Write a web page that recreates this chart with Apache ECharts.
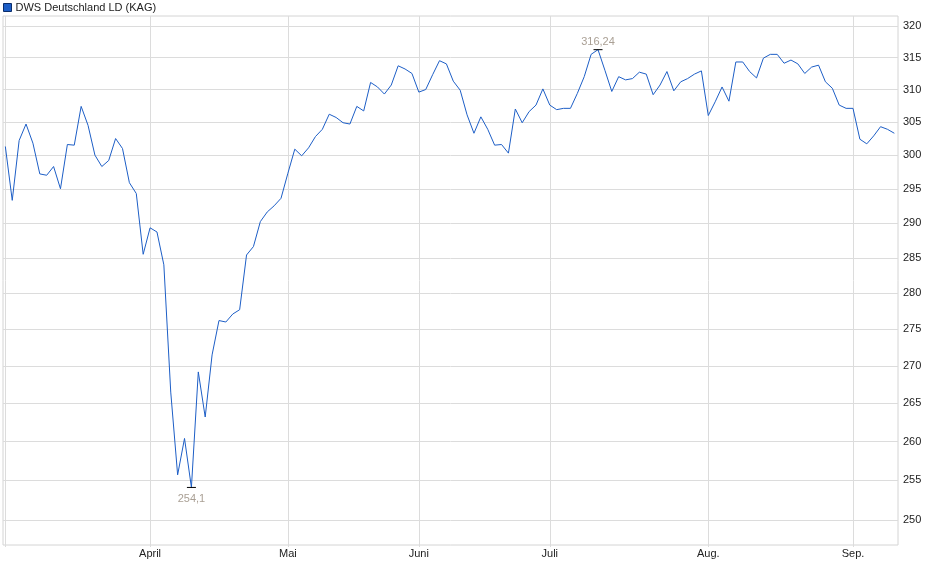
<!DOCTYPE html>
<html>

<head>
    <meta charset="utf-8" />
    <script type="text/javascript" src="https://cdn.jsdelivr.net/npm/echarts@6/dist/echarts.min.js"></script>
    <title>DWS Deutschland LD (KAG)</title>
    <style>
        html, body { margin: 0; padding: 0; background: #fff; }
        #main { width: 940px; height: 579px; }
    </style>
</head>

<body>
    <div id="main"></div>
    <script type="text/javascript">
    var seriesName = 'DWS Deutschland LD (KAG)';
    // Kurse je Handelstag, nach Monat getrennt
    var maerz = [301.3, 293.3, 302.2, 304.7, 301.8, 297.2, 297.0, 298.3, 295.0, 301.6, 301.5,
        307.4, 304.5, 300.0, 298.3, 299.2, 302.5, 301.0, 295.9, 294.3, 285.5];
    var april = [289.3, 288.7, 284.0, 266.5, 255.7, 260.4, 254.1, 269.2, 263.2, 271.5, 276.2,
        276.0, 277.1, 277.7, 285.4, 286.6, 290.2, 291.6, 292.5, 293.6];
    var mai = [297.3, 300.9, 299.9, 301.1, 302.8, 303.9, 306.2, 305.7, 304.9, 304.7, 307.4,
        306.7, 311.1, 310.4, 309.3, 310.7, 313.7, 313.2, 312.5];
    var juni = [309.6, 310.0, 312.3, 314.5, 314.0, 311.3, 309.9, 306.1, 303.3, 305.8, 303.9,
        301.5, 301.6, 300.3, 307.0, 304.9, 306.6, 307.6, 310.1];
    var juli = [307.6, 306.9, 307.1, 307.1, 309.4, 312.0, 315.5, 316.24, 313.0, 309.7, 312.0,
        311.5, 311.7, 312.7, 312.4, 309.2, 310.7, 312.8, 309.8, 311.2, 311.7, 312.4, 312.9];
    var august = [306.0, 308.1, 310.4, 308.2, 314.3, 314.3, 312.8, 311.8, 314.9, 315.5, 315.5,
        314.1, 314.6, 314.0, 312.5, 313.5, 313.8, 311.2, 310.2, 307.6, 307.1];
    var september = [307.1, 302.4, 301.7, 302.9, 304.3, 303.9, 303.3];

    var monthLabels = ['', 'April', 'Mai', 'Juni', 'Juli', 'Aug.', 'Sep.'];
    var yTicks = [250, 255, 260, 265, 270, 275, 280, 285, 290, 295, 300, 305, 310, 315, 320];

    // Monate zusammenfuegen, Monatsanfang merken
    var months = [maerz, april, mai, juni, juli, august, september];
    var kurse = [];
    var monthStart = [];
    for (var m = 0; m < months.length; m++) {
        monthStart.push(kurse.length);
        kurse = kurse.concat(months[m]);
    }

    // logarithmische Skala: Werte als ln() auftragen
    var lineData = kurse.map(function (v, i) { return [i, Math.log(v)]; });

    var iMax = 0, iMin = 0;
    for (var k = 1; k < kurse.length; k++) {
        if (kurse[k] > kurse[iMax]) iMax = k;
        if (kurse[k] < kurse[iMin]) iMin = k;
    }

    function deNum(v) {
        return String(v).replace('.', ',');
    }

    var font = "'Liberation Sans', Arial, sans-serif";
    var gridColor = '#dcdcdc';

    var myChart = echarts.init(document.getElementById('main'));
    var option = {
        animation: false,
        textStyle: { fontFamily: font },
        legend: {
            left: 3,
            top: 2,
            padding: 0,
            icon: 'rect',
            itemWidth: 8,
            itemHeight: 8,
            itemGap: 10,
            textStyle: { fontSize: 11, color: '#222', fontFamily: font, padding: [0, 0, 0, -1] },
            itemStyle: { borderColor: '#0b2d6b', borderWidth: 1 },
            data: [seriesName]
        },
        grid: {
            show: true,
            left: 3,
            top: 16,
            right: 42,
            bottom: 34,
            borderColor: '#d4d4d4',
            borderWidth: 1,
            outerBoundsMode: 'none'
        },
        xAxis: {
            type: 'value',
            min: -0.34,
            max: kurse.length - 1 + 0.53,
            axisLine: { show: false },
            axisTick: {
                show: true,
                length: 2,
                customValues: monthStart,
                lineStyle: { color: gridColor }
            },
            axisLabel: {
                customValues: monthStart.slice(1),
                margin: 3,
                fontSize: 11,
                color: '#222',
                fontFamily: font,
                formatter: function (v) {
                    return monthLabels[monthStart.indexOf(v)];
                }
            },
            splitLine: { show: true, lineStyle: { color: gridColor, width: 1 } }
        },
        yAxis: {
            type: 'value',
            position: 'right',
            min: Math.log(yTicks[0]) - 0.0125,
            max: Math.log(yTicks[yTicks.length - 1]) + 0.005,
            axisLine: { show: false },
            axisTick: {
                show: false,
                customValues: yTicks.map(function (t) { return Math.log(t); })
            },
            axisLabel: {
                customValues: yTicks.map(function (t) { return Math.log(t); }),
                margin: 5,
                fontSize: 11,
                color: '#222',
                fontFamily: font,
                formatter: function (v) {
                    return String(Math.round(Math.exp(v)));
                }
            },
            splitLine: { show: true, lineStyle: { color: gridColor, width: 1 } }
        },
        series: [{
            name: seriesName,
            type: 'line',
            data: lineData,
            showSymbol: false,
            symbol: 'none',
            lineStyle: { width: 1, color: '#1d5ec6' },
            itemStyle: { color: '#1d5ec6' },
            markPoint: {
                symbol: 'rect',
                symbolSize: [9, 1],
                itemStyle: { color: '#000' },
                label: {
                    show: true,
                    fontSize: 11,
                    color: '#aaa095',
                    fontFamily: font,
                    formatter: function (p) { return deNum(p.value); }
                },
                data: [
                    { coord: [iMax, Math.log(kurse[iMax])], value: kurse[iMax], label: { position: 'top', distance: 2 } },
                    { coord: [iMin, Math.log(kurse[iMin])], value: kurse[iMin], label: { position: 'bottom', distance: 6 } }
                ]
            }
        }]
    };
    myChart.setOption(option);
    </script>
</body>

</html>
